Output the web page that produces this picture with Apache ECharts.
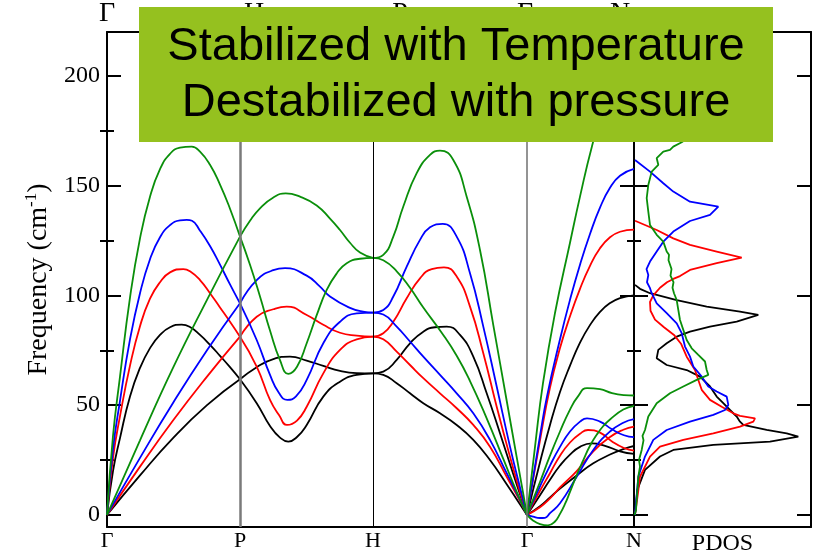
<!DOCTYPE html>
<html>
<head>
<meta charset="utf-8">
<script src="https://cdn.jsdelivr.net/npm/echarts@6/dist/echarts.min.js"></script>
<style>html,body{margin:0;padding:0;background:#fff}#c{width:814px;height:551px}</style>
</head>
<body>
<div id="c"></div>
<script>
// ---- axis data ----
const kTicks = [0, 133, 266, 420, 527];          // path distance (arb.) of high-symmetry points
const kLabels = ['Γ', 'P', 'H', 'Γ', 'N'];
const yTicks = [0, 50, 100, 150, 200];
const yMinorTicks = [25, 75, 125, 175];
const Y_MIN = -5.5, Y_MAX = 220;
const K_MAX = 527, DOS_MAX = 177;

// ---- dispersion: [path distance, frequency cm^-1] per branch ----
// Γ–P
const blackGP = [
  [[0,0],[33,18],[66,35],[100,50],[133,61.8]],
  [[0,0],[6,20],[13,35],[23,54],[33,67],[43,76],[53,82],[63,85.5],[74.7,86.7],[83,85.6],[93,82],[103,77.5],[113,72.5],[123,67.3],[133,61.8]]
];
const redGP = [
  [[0,0],[33,22],[66,43],[100,63],[133,81.2]],
  [[0,0],[6,26],[13,45],[23,68],[33,86],[43,98.5],[53,106],[63,110.5],[76.3,112],[83,111],[93,107],[103,101],[113,94.5],[123,88],[133,81.2]]
];
const blueGP = [
  [[0,0],[33,26],[66,51],[100,75],[133,96.4]],
  [[0,0],[6,30],[13,52],[23,80],[33,101],[43,116.5],[53,126.5],[63,132],[73,134.2],[79.7,134.4],[85,134],[93,129.5],[103,122.5],[113,114],[123,105],[133,96.4]]
];
const greenGP = [
  [[0,0],[33,34],[66,67],[100,98],[133,126.8]],
  [[0,0],[6,36],[13,63],[23,99],[33,126],[43,145],[53,157.5],[63,164.5],[73,167.3],[84.7,167.8],[93,165.5],[103,159.5],[113,150.5],[123,139.5],[133,126.8]]
];
// P–H
const blackPH = [
  [[133,61.8],[149.7,50.9],[163,40.5],[173,35.2],[181.3,33.4],[190,35.5],[199.7,41],[216.3,53.9],[233,60.7],[249.7,63.8],[266,64.5]],
  [[133,61.8],[149.7,67.3],[166.3,71],[183,72.1],[199.7,70.3],[216.3,67.9],[233,65.6],[249.7,64.6],[266,64.5]]
];
const redPH = [
  [[133,81.2],[149.7,67.6],[163,52.4],[172,45.5],[180,41],[190,43],[199.7,49.3],[216.3,64.5],[233,75.2],[249.7,80],[266,81.2]],
  [[133,81.2],[149.7,90.3],[166.3,93.7],[179.7,94.9],[199.7,91.1],[216.3,86.6],[233,83],[249.7,81.7],[266,81.2]]
];
const bluePH = [
  [[133,96.4],[149.7,79.7],[163,63.8],[172,55.5],[180.3,52.4],[189,54],[199.7,61.5],[216.3,78.2],[233,88],[249.7,91.8],[266,92.2]],
  [[133,96.4],[149.7,107],[166.3,111.5],[178,112.4],[199.7,109],[213,104],[223,99.5],[243,94.3],[256,92.6],[266,92.2]]
];
const greenPH = [
  [[133,126.8],[143,114],[153,99.5],[163,84],[173,70.5],[181.3,64.3],[190,67.5],[199.7,78.2],[209.7,91],[219.7,102.5],[229.7,110],[239.7,114.7],[253,116.7],[266,117.1]],
  [[133,126.8],[143,134],[153,139.7],[166,144.5],[178.7,146.5],[193,145],[209.7,141],[223,135],[233,129.8],[243,124],[253,119.5],[266,117.1]]
];
// H–Γ
const blackHG = [
  [[266,64.5],[276.3,65.3],[289.7,70.6],[303,78.2],[316.3,83.5],[328,85.5],[339.7,85.8],[353,82],[366.3,72.1],[379.7,55.4],[393,37.2],[406.3,18.5],[420,0]],
  [[266,64.5],[276.3,63.8],[289.7,60],[303,55.4],[316.3,50.9],[333,46.3],[349.7,41],[366.3,34.2],[383,25],[399.7,14],[411.3,6],[420,0]]
];
const redHG = [
  [[266,81.2],[276.3,82.8],[286.3,88],[299.7,98.7],[313,107.8],[324.7,112],[337,112.8],[349.7,108.6],[363,94.9],[376.3,73.7],[389.7,49.3],[403,26.5],[413,10.5],[420,0]],
  [[266,81.2],[276.3,80],[289.7,74.4],[303,68.3],[316.3,62.3],[333,55.4],[349.7,48.6],[366.3,41],[383,31.1],[399.7,17.4],[411.3,7.8],[420,0]]
];
const blueHG = [
  [[266,92.2],[276.3,93.4],[286.3,99.5],[299.7,113.1],[313,125.3],[323,131],[335.7,132.6],[349.7,126.8],[363,110.1],[376.3,85.8],[389.7,58.5],[403,31.1],[413,12.5],[420,0]],
  [[266,92.2],[276.3,91.3],[289.7,85.8],[303,79],[316.3,72.1],[333,63.8],[349.7,55.4],[366.3,46.3],[383,34.2],[399.7,19],[411.3,8.5],[420,0]]
];
const greenHG = [
  [[266,117.1],[276.3,118.5],[286.3,126.8],[296.3,140.5],[309.7,155.7],[323,164],[333,166],[346.3,161.7],[359.7,145],[373,120.7],[386.3,86.5],[399.7,52],[409.7,26.3],[420,0]],
  [[266,117.1],[276.3,116],[289.7,111],[303,103.5],[316.3,94.5],[334.7,83],[349.7,72.5],[363,61],[379.7,44],[396.3,25.5],[409.7,10.5],[420,0]]
];
// Γ–N
const blackGN = [
  [[420,0],[433,24],[443,41],[453,56],[463,68],[473,78.5],[483,86.5],[493,92.5],[503,96.5],[513,98.8],[527,100]],
  [[420,0],[433,9],[443,16],[453,22.5],[463,27.5],[473,31],[484.7,32.6],[498,31.5],[513,29],[527,27.8]],
  [[420,0],[433,4],[443,8],[453,12],[469.7,18],[486.3,23.5],[503,27.5],[516.3,30],[527,31.4]]
];
const redGN = [
  [[420,0],[433,34],[443,58],[453,76],[463,90.5],[473,103],[483,113.5],[493,121.5],[503,126.5],[513,129],[527,130]],
  [[420,0],[433,11],[443,19],[453,27],[463,33],[473,37],[481,38.7],[493,37.5],[505,33.5],[517,30.5],[527,29.3]],
  [[420,0],[433,3.5],[443,7.5],[453,12.5],[469.7,20],[486.3,29],[503,35.5],[516.3,38.8],[527,40.2]]
];
const blueGN = [
  [[420,0],[433,36],[440,54],[453,80],[463,98],[473,114],[483,128],[493,140],[503,149],[513,154.5],[527,157.6]],
  [[420,0],[433,13],[443,22.5],[453,31],[463,38],[473,42.5],[480,44],[493,42.5],[505,39],[517,36.3],[527,35.4]],
  [[420,0],[426,-0.8],[433,-1.4],[438,-1.3],[443,0.8],[453,5.3],[469.7,17.4],[486.3,29.6],[503,38],[516.3,42],[527,43.6]]
];
const greenGN = [
  [[420,0],[428,31],[436,60],[448,92],[463,124],[473,145],[485,168],[498,188],[513,202],[527,208]],
  [[420,0],[433,15],[443,27],[453,38],[463,48],[471,54],[480,57.8],[493,57.3],[505,55.5],[517,54.6],[527,54.4]],
  [[420,0],[426,-2.5],[433,-4.2],[441,-4.8],[448,-3],[453,0.5],[458,5],[463,10.5],[470,18.5],[476.3,25],[483,31.5],[489.7,36.5],[496.3,40.5],[503,43.5],[516.3,48],[527,49.7]]
];

// ---- PDOS: [density (arb.), frequency cm^-1] ----
const pdosBlack = [[1,0],[3.3,11.4],[11,20.5],[26,26.6],[39.3,29.6],[79.3,31.9],[136,33.4],[164.3,35.7],[152.7,37.2],[132.7,38.7],[109.3,41],[106,42.5],[102.7,44.8],[96,47.8],[89.3,50.9],[82.7,53.9],[76,58.5],[66,63],[52.7,66],[32.7,68.3],[22.7,71.4],[24.3,75.2],[32.7,78.2],[42.7,81.2],[56,83.5],[76,85.8],[102.7,88.1],[124.3,91.1],[106,92.6],[72.7,94.9],[42.7,97.9],[16,101],[6,103],[1,104.8]];
const pdosRed = [[1,0],[4,10],[6,17.4],[16,26.6],[26,31.1],[49.3,34.2],[79.3,37.2],[106,40.2],[119.3,42.5],[121,44],[106,45.1],[99.3,46.3],[87.7,49.3],[76,52.4],[67.7,57],[64.3,61.5],[61,66],[52.7,72.1],[47,78],[40,82],[30,85.5],[21,89],[16.5,93],[16,97],[19.3,100],[26,103.5],[33,106],[39.3,107.5],[46,108.8],[56,111.6],[82.7,114.7],[107.7,117.2],[82.7,120],[56,123],[39.3,126],[22.7,129.8],[1,134]];
const pdosBlue = [[1,0],[4.3,17.4],[11,26.6],[19.3,34.2],[32.7,38.7],[56,42.5],[79.3,45.6],[91,47.8],[94.3,50.1],[92.7,53.9],[82.7,56.2],[74.3,58.5],[67.7,63],[59.3,67.6],[56,72.1],[51,76.7],[47.7,82.8],[42.7,87.3],[32.7,91.9],[22.7,96.4],[17.7,101],[16,103.3],[13,106],[14.3,109.3],[12.5,112],[16,115.4],[22.7,120],[29.3,124.5],[39.3,129.1],[56,133.9],[76,136.7],[84.3,140.5],[56,142.7],[39.3,147.3],[29.3,151.1],[16,156.4],[1,161.7]];
const pdosGreen = [[0.5,0],[2,2.3],[4.3,17.4],[6,22],[5,25],[7.7,29.6],[9.5,34],[8.5,36],[11,38.7],[14.3,44.8],[22.7,50.9],[36,55.4],[49.3,58.5],[62.7,61.5],[74.3,63.8],[72.7,66],[71,69.9],[64.3,72.9],[57.7,75.9],[52.7,79.7],[49.3,84.3],[46,88.8],[44.3,93.4],[42.7,97.9],[40,101],[38.5,103.5],[39.5,106],[36.5,109],[37.5,112],[34.5,116],[35,118.5],[32.7,120],[29.3,124.5],[22.7,127.6],[16,132.1],[14.3,138.2],[12.7,144.3],[14.3,150.3],[17.7,156.4],[24.3,159.5],[22.7,162.5],[29.3,165.5],[36,166.3],[39.3,167.8],[47.7,169.8],[55,172],[62,176]];

// ---- styling ----
const SERIF = 'Liberation Serif';
const COL = { black: '#000000', red: '#ff0000', blue: '#0000ff', green: '#0a8f0a' };
const bandSets = [
  [COL.black, [blackGP, blackPH, blackHG, blackGN]],
  [COL.red,   [redGP, redPH, redHG, redGN]],
  [COL.blue,  [blueGP, bluePH, blueHG, blueGN]],
  [COL.green, [greenGP, greenPH, greenHG, greenGN]]
];
const pdosSets = [[COL.black, pdosBlack], [COL.red, pdosRed], [COL.blue, pdosBlue], [COL.green, pdosGreen]];

const series = [];
series.push({
  type: 'line', xAxisIndex: 0, yAxisIndex: 0, data: [], silent: true,
  markLine: {
    silent: true, symbol: ['none', 'none'], label: { show: false }, animation: false,
    data: [
      { xAxis: kTicks[1], lineStyle: { color: '#7a7a7a', width: 2.5, type: 'solid' } },
      { xAxis: kTicks[2], lineStyle: { color: '#000', width: 1, type: 'solid' } },
      { xAxis: kTicks[3], lineStyle: { color: '#707070', width: 1.5, type: 'solid' } }
    ]
  }
});
bandSets.forEach(([color, segs]) => {
  segs.forEach(seg => seg.forEach(branch => {
    series.push({
      type: 'line', xAxisIndex: 0, yAxisIndex: 0, data: branch,
      showSymbol: false, smooth: 0.5, silent: true,
      lineStyle: { color, width: 1.8 }
    });
  }));
});
pdosSets.forEach(([color, d]) => {
  series.push({
    type: 'line', xAxisIndex: 2, yAxisIndex: 4, data: d,
    showSymbol: false, smooth: false, silent: true,
    lineStyle: { color, width: 1.8 }
  });
});

const frameLine = { show: true, onZero: false, lineStyle: { color: '#000', width: 2 } };
function yAx(grid, pos, ticks, len, extra) {
  return Object.assign({
    type: 'value', gridIndex: grid, position: pos, min: Y_MIN, max: Y_MAX,
    splitLine: { show: false },
    axisLine: frameLine,
    axisTick: { show: true, inside: true, length: len, customValues: ticks, lineStyle: { color: '#000', width: 2 } },
    axisLabel: { show: false }
  }, extra || {});
}
function xAx(grid, pos, max, extra) {
  return Object.assign({
    type: 'value', gridIndex: grid, position: pos, min: 0, max: max,
    splitLine: { show: false }, axisLine: frameLine,
    axisTick: { show: false }, axisLabel: { show: false }
  }, extra || {});
}

const option = {
  animation: false,
  backgroundColor: '#fff',
  grid: [
    { left: 107, top: 32, width: 527, height: 495, containLabel: false, outerBoundsMode: 'none' },
    { left: 634, top: 32, width: 177, height: 495, containLabel: false, outerBoundsMode: 'none' }
  ],
  xAxis: [
    xAx(0, 'bottom', K_MAX, {
      axisLabel: {
        show: true, customValues: kTicks, margin: 3,
        formatter: v => kLabels[kTicks.indexOf(v)],
        fontFamily: SERIF, fontSize: 22, color: '#000'
      }
    }),
    xAx(0, 'top', K_MAX),
    xAx(1, 'bottom', DOS_MAX, {
      name: 'PDOS', nameLocation: 'middle', nameGap: 5,
      nameTextStyle: { fontFamily: SERIF, fontSize: 24, color: '#000', verticalAlign: 'top' }
    }),
    xAx(1, 'top', DOS_MAX)
  ],
  yAxis: [
    yAx(0, 'left', yTicks, 14, {
      axisLabel: { show: true, customValues: yTicks, margin: 7, fontFamily: SERIF, fontSize: 24, color: '#000' },
      name: 'Frequency (cm{sup|-1})', nameLocation: 'middle', nameGap: 45, nameRotate: 90,
      nameTextStyle: {
        fontFamily: SERIF, fontSize: 28, color: '#000',
        rich: { sup: { fontFamily: SERIF, fontSize: 17, color: '#000', padding: [0, 0, 16, 0] } }
      }
    }),
    yAx(0, 'right', yTicks, 14),
    yAx(0, 'left', yMinorTicks, 7, { axisLine: { show: false } }),
    yAx(0, 'right', yMinorTicks, 7, { axisLine: { show: false } }),
    yAx(1, 'left', yTicks, 14),
    yAx(1, 'right', yTicks, 14),
    yAx(1, 'left', yMinorTicks, 7, { axisLine: { show: false } }),
    yAx(1, 'right', yMinorTicks, 7, { axisLine: { show: false } })
  ],
  series: series,
  graphic: {
    elements: [
      { type: 'text', z: 1, style: { text: 'Γ', x: 107, y: 0, textAlign: 'center', textVerticalAlign: 'top', font: '28px "Liberation Serif"', fill: '#000' } },
      { type: 'text', z: 1, style: { text: 'H', x: 254, y: 0, textAlign: 'center', textVerticalAlign: 'top', font: '28px "Liberation Serif"', fill: '#000' } },
      { type: 'text', z: 1, style: { text: 'P', x: 400, y: 0, textAlign: 'center', textVerticalAlign: 'top', font: '28px "Liberation Serif"', fill: '#000' } },
      { type: 'text', z: 1, style: { text: 'Γ', x: 525, y: 0, textAlign: 'center', textVerticalAlign: 'top', font: '28px "Liberation Serif"', fill: '#000' } },
      { type: 'text', z: 1, style: { text: 'N', x: 620, y: 0, textAlign: 'center', textVerticalAlign: 'top', font: '28px "Liberation Serif"', fill: '#000' } },
      { type: 'rect', z: 100, shape: { x: 139, y: 7, width: 634, height: 135 }, style: { fill: '#95C11F' } },
      { type: 'text', z: 101, style: { text: 'Stabilized with Temperature', x: 456, y: 47, textAlign: 'center', textVerticalAlign: 'middle', font: '47px "Liberation Sans"', fill: '#000' } },
      { type: 'text', z: 101, style: { text: 'Destabilized with pressure', x: 456, y: 103, textAlign: 'center', textVerticalAlign: 'middle', font: '47px "Liberation Sans"', fill: '#000' } }
    ]
  }
};

const chart = echarts.init(document.getElementById('c'), null, { renderer: 'canvas' });
chart.setOption(option);
</script>
</body>
</html>
